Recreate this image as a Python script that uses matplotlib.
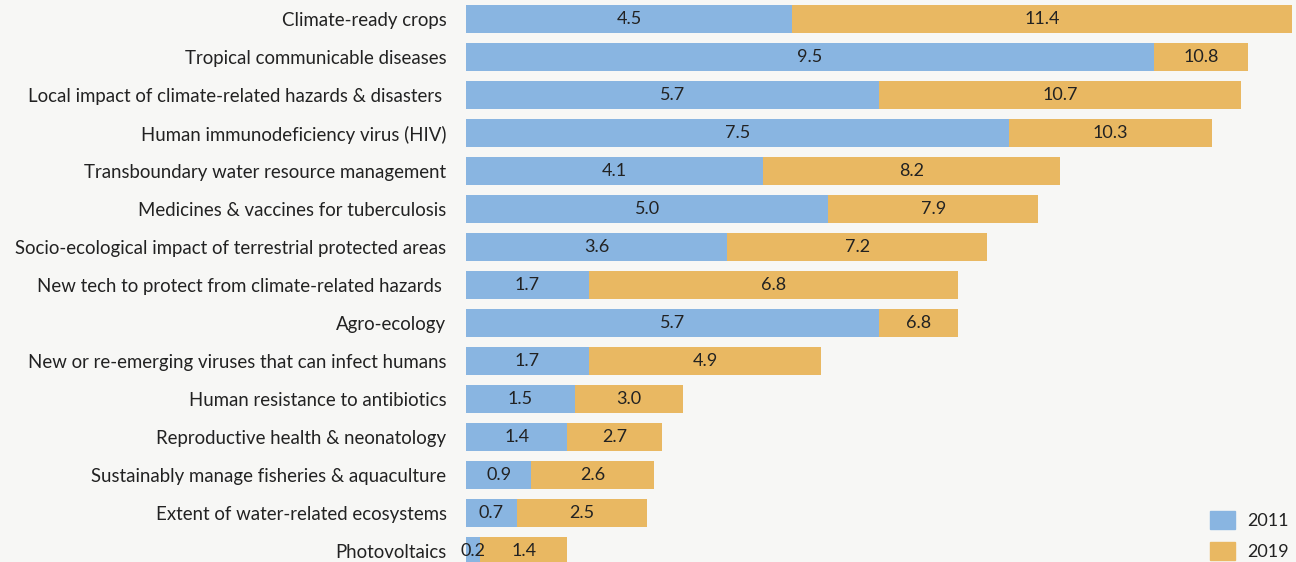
import numpy as np
import matplotlib.pyplot as plt
from matplotlib.patches import Patch

categories = [
    "Climate-ready crops",
    "Tropical communicable diseases",
    "Local impact of climate-related hazards & disasters ",
    "Human immunodeficiency virus (HIV)",
    "Transboundary water resource management",
    "Medicines & vaccines for tuberculosis",
    "Socio-ecological impact of terrestrial protected areas",
    "New tech to protect from climate-related hazards ",
    "Agro-ecology",
    "New or re-emerging viruses that can infect humans",
    "Human resistance to antibiotics",
    "Reproductive health & neonatology",
    "Sustainably manage fisheries & aquaculture",
    "Extent of water-related ecosystems",
    "Photovoltaics",
]
v2011 = [4.5, 9.5, 5.7, 7.5, 4.1, 5.0, 3.6, 1.7, 5.7, 1.7, 1.5, 1.4, 0.9, 0.7, 0.2]
v2019 = [11.4, 10.8, 10.7, 10.3, 8.2, 7.9, 7.2, 6.8, 6.8, 4.9, 3.0, 2.7, 2.6, 2.5, 1.4]

blue = "#89b5e1"
orange = "#e9b862"
bg = "#f7f7f5"
txt = "#222222"

plt.rcParams['font.family'] = ['Lato', 'DejaVu Sans']

fig = plt.figure(figsize=(12.96, 5.62), dpi=100, facecolor=bg)
ax = fig.add_axes([466 / 1296, 0, 1 - 466 / 1296, 1])
ax.set_facecolor(bg)

y = np.arange(len(categories))
ax.barh(y, v2019, height=0.72, color=orange, label="2019")
ax.barh(y, v2011, height=0.72, color=blue, label="2011")

for i in range(len(categories)):
    a, b = v2011[i], v2019[i]
    ax.text(a / 2, i, f"{a:.1f}", ha="center", va="center", fontsize=13, color=txt)
    ax.text((a + b) / 2, i, f"{b:.1f}", ha="center", va="center", fontsize=13, color=txt)

ax.set_xlim(0, 11.46)
ax.set_ylim(14.29, -0.5)
ax.set_yticks(y)
ax.set_yticklabels(categories, fontsize=13.4, color=txt)
ax.tick_params(axis="y", length=0, pad=14)
ax.set_xticks([])
for s in ax.spines.values():
    s.set_visible(False)

handles = [Patch(color=blue, label="2011"), Patch(color=orange, label="2019")]
fig.legend(handles=handles, loc="lower left", bbox_to_anchor=(1194 / 1296, -0.026),
           frameon=False, fontsize=13, handlelength=1.35, handleheight=1.15,
           labelspacing=0.75, handletextpad=0.7, labelcolor=txt)

fig.savefig("out.png", dpi=100, facecolor=bg)
